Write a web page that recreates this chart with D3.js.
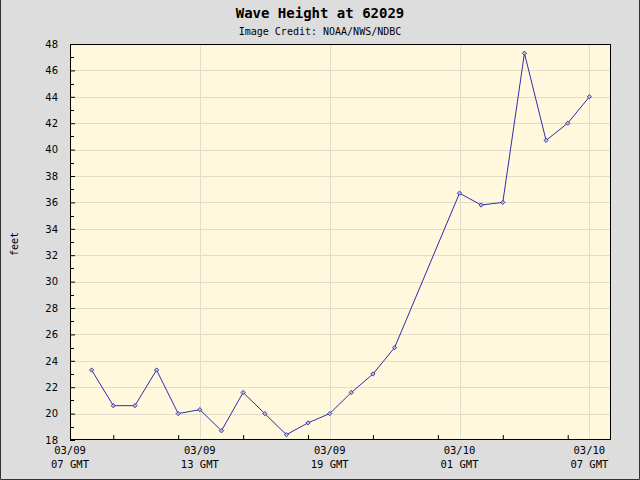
<!DOCTYPE html>
<html>
<head>
<meta charset="utf-8">
<script src="https://cdn.jsdelivr.net/npm/d3@7"></script>
<style>
  body { margin: 0; background: #fff; }
  svg { display: block; }
</style>
</head>
<body>
<div id="chart"></div>
<script>
// hourly observations, station 62029
const times = [
  "2011-03-09T08:00Z", "2011-03-09T09:00Z", "2011-03-09T10:00Z", "2011-03-09T11:00Z",
  "2011-03-09T12:00Z", "2011-03-09T13:00Z", "2011-03-09T14:00Z", "2011-03-09T15:00Z",
  "2011-03-09T16:00Z", "2011-03-09T17:00Z", "2011-03-09T18:00Z", "2011-03-09T19:00Z",
  "2011-03-09T20:00Z", "2011-03-09T21:00Z", "2011-03-09T22:00Z",
  "2011-03-10T01:00Z", "2011-03-10T02:00Z", "2011-03-10T03:00Z", "2011-03-10T04:00Z",
  "2011-03-10T05:00Z", "2011-03-10T06:00Z", "2011-03-10T07:00Z"
];
const heights = [
  23.3, 20.6, 20.6, 23.3,
  20.0, 20.3, 18.7, 21.6,
  20.0, 18.4, 19.3, 20.0,
  21.6, 23.0, 25.0,
  36.7, 35.8, 36.0, 47.3,
  40.7, 42.0, 44.0
];
const xDomain = ["2011-03-09T07:00Z", "2011-03-10T08:00Z"];
const yDomain = [18, 48];
const xTickTimes = ["2011-03-09T07:00Z", "2011-03-09T13:00Z", "2011-03-09T19:00Z", "2011-03-10T01:00Z", "2011-03-10T07:00Z"];
const xTickLabels = [["03/09", "07 GMT"], ["03/09", "13 GMT"], ["03/09", "19 GMT"], ["03/10", "01 GMT"], ["03/10", "07 GMT"]];

const width = 640, height = 480;
const margin = { top: 44, right: 29, bottom: 40, left: 70 };

const data = times.map((t, i) => ({ t: new Date(t), v: heights[i] }));

const svg = d3.select("#chart").append("svg")
    .attr("width", width)
    .attr("height", height);

// outer frame
svg.append("rect")
    .attr("width", width).attr("height", height)
    .attr("fill", "#dddddd");
svg.append("path")
    .attr("d", `M0.5,0V${height - 0.5}H${width - 0.5}V0`)
    .attr("fill", "none")
    .attr("stroke", "#333");

const x = d3.scaleUtc()
    .domain(xDomain.map(d => new Date(d)))
    .range([margin.left, width - margin.right]);
const y = d3.scaleLinear()
    .domain(yDomain)
    .range([height - margin.bottom, margin.top]);

// plot background
svg.append("rect")
    .attr("x", margin.left).attr("y", margin.top)
    .attr("width", width - margin.left - margin.right)
    .attr("height", height - margin.top - margin.bottom)
    .attr("fill", "#fff8dc");

// grid
const grid = svg.append("g").attr("stroke", "#e2dccb").attr("shape-rendering", "crispEdges");
grid.selectAll(".hg")
    .data(d3.range(yDomain[0] + 2, yDomain[1], 2))
    .join("line")
      .attr("x1", margin.left).attr("x2", width - margin.right)
      .attr("y1", d => Math.round(y(d)) + 0.5).attr("y2", d => Math.round(y(d)) + 0.5);
grid.selectAll(".vg")
    .data(xTickTimes.slice(1).map(d => new Date(d)))
    .join("line")
      .attr("y1", margin.top).attr("y2", height - margin.bottom)
      .attr("x1", d => Math.round(x(d)) + 0.5).attr("x2", d => Math.round(x(d)) + 0.5);

// y axis, ticks inward
const yAxis = svg.append("g")
    .attr("transform", `translate(${margin.left},0)`)
    .call(d3.axisLeft(y).tickValues(d3.range(yDomain[0], yDomain[1] + 1, 2)).tickSize(-5).tickPadding(12).tickSizeOuter(0))
    .call(g => g.select(".domain").remove());
yAxis.selectAll("text")
    .attr("font-family", "'DejaVu Sans', Verdana, sans-serif")
    .attr("font-size", 10)
    .attr("fill", "#000");
svg.append("g")
    .attr("stroke", "#000")
    .selectAll("line")
    .data(d3.range(yDomain[0] + 1, yDomain[1], 2))
    .join("line")
      .attr("x1", margin.left).attr("x2", margin.left + 4)
      .attr("y1", d => Math.round(y(d)) + 0.5).attr("y2", d => Math.round(y(d)) + 0.5);

// x axis, ticks inward
svg.append("g")
    .attr("transform", `translate(0,${height - margin.bottom})`)
    .call(d3.axisBottom(x)
      .tickValues(d3.utcHour.every(3).range(new Date(xDomain[0]), new Date(xDomain[1])))
      .tickSize(-5).tickSizeOuter(0).tickFormat(""))
    .call(g => g.select(".domain").remove());

const xLabels = svg.append("g")
    .attr("font-family", "'DejaVu Sans Mono', monospace")
    .attr("font-size", 10.5)
    .attr("text-anchor", "middle")
    .selectAll("text")
    .data(xTickTimes.map((d, i) => ({ t: new Date(d), lines: xTickLabels[i] })))
    .join("text")
      .attr("x", d => x(d.t))
      .attr("y", 454);
xLabels.selectAll("tspan")
    .data(d => d.lines)
    .join("tspan")
      .attr("x", function() { return d3.select(this.parentNode).attr("x"); })
      .attr("dy", (d, i) => i ? 14 : 0)
      .text(d => d);

// frame around plot
svg.append("rect")
    .attr("x", margin.left + 0.5).attr("y", margin.top + 0.5)
    .attr("width", width - margin.left - margin.right - 1)
    .attr("height", height - margin.top - margin.bottom - 1)
    .attr("fill", "none")
    .attr("stroke", "#000");

// series
const line = d3.line().x(d => x(d.t)).y(d => y(d.v));
svg.append("path")
    .datum(data)
    .attr("fill", "none")
    .attr("stroke", "#2e2eaa")
    .attr("stroke-width", 1)
    .attr("d", line);
svg.append("g")
    .selectAll("path")
    .data(data)
    .join("path")
      .attr("transform", d => `translate(${x(d.t)},${y(d.v)}) rotate(45)`)
      .attr("d", d3.symbol(d3.symbolSquare, 9))
      .attr("fill", "#b8b8ec")
      .attr("stroke", "#2a2a8a")
      .attr("stroke-width", 0.8);

// titles
svg.append("text")
    .attr("x", width / 2).attr("y", 18)
    .attr("text-anchor", "middle")
    .attr("font-family", "'DejaVu Sans Mono', monospace")
    .attr("font-weight", "bold")
    .attr("font-size", 14)
    .text("Wave Height at 62029");
svg.append("text")
    .attr("x", width / 2).attr("y", 35)
    .attr("text-anchor", "middle")
    .attr("font-family", "'DejaVu Sans Mono', monospace")
    .attr("font-size", 10)
    .text("Image Credit: NOAA/NWS/NDBC");
svg.append("text")
    .attr("transform", "translate(18,244) rotate(-90)")
    .attr("text-anchor", "middle")
    .attr("font-family", "'DejaVu Sans Mono', monospace")
    .attr("font-size", 10)
    .text("feet");
</script>
</body>
</html>
